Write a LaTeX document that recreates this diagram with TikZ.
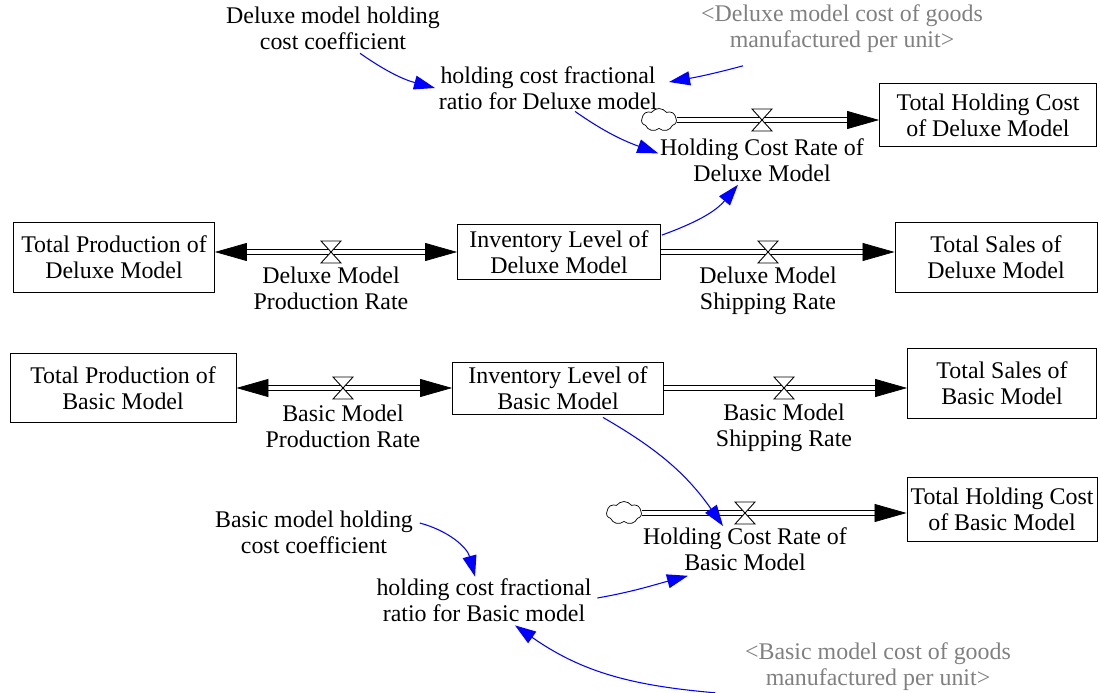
\documentclass[tikz,border=0pt]{standalone}
\usepackage{fontspec}
\setmainfont{Liberation Serif}
\usepackage{xcolor}
\usepackage{tikz}
\usetikzlibrary{arrows.meta, positioning, calc, shapes.symbols}
\definecolor{linkcolor}{RGB}{0, 0, 255}
\definecolor{ghostcolor}{RGB}{128, 128, 128}

\begin{document}
\begin{tikzpicture}[x=0.02cm, y=0.02cm,
    txt/.style={font=\fontsize{13.6}{14.8}\selectfont, align=center, inner sep=2pt},
    stock/.style={txt, draw, line width=0.5pt},
    ghost/.style={txt, text=ghostcolor},
    pipe/.style={double, double distance=0.8mm, line width=0.4pt},
    flowtip/.style={-{Triangle[length=6.4mm, width=3.6mm]}},
    twotip/.style={{Triangle[length=6.4mm, width=3.6mm]}-{Triangle[length=6.4mm, width=3.6mm]}},
    link/.style={linkcolor, line width=0.6pt, -{Triangle[length=4.2mm, width=2.8mm]}},
    source/.style={cloud, cloud puffs=7, cloud puff arc=110, aspect=1.5, draw, line width=0.4pt, minimum width=0.7cm, minimum height=0.46cm, inner sep=0pt, fill=white},
    valve/.pic={\draw[fill=white, line width=0.5pt] (-10,11) -- (10,11) -- (-10,-11) -- (10,-11) -- cycle;}
]
    \useasboundingbox (0,0) rectangle (1100,-693);

    % Deluxe stocks
    \node[stock, minimum width=4.02cm, minimum height=1.4cm] (totProdD) at (114,-257) {Total Production of\\Deluxe Model};
    \node[stock, minimum width=4.06cm, minimum height=1.1cm] (invD) at (559,-252) {Inventory Level of\\Deluxe Model};
    \node[stock, minimum width=4.04cm, minimum height=1.4cm] (salesD) at (996,-257) {Total Sales of\\Deluxe Model};
    \node[stock, minimum width=4.34cm, minimum height=1.26cm] (holdD) at (988,-115) {Total Holding Cost\\of Deluxe Model};

    % Basic stocks
    \node[stock, minimum width=4.52cm, minimum height=1.38cm] (totProdB) at (123,-388) {Total Production of\\Basic Model};
    \node[stock, minimum width=4.22cm, minimum height=1.04cm] (invB) at (558,-388) {Inventory Level of\\Basic Model};
    \node[stock, minimum width=3.78cm, minimum height=1.4cm] (salesB) at (1002,-383) {Total Sales of\\Basic Model};
    \node[stock, minimum width=3.8cm, minimum height=1.28cm] (holdB) at (1002,-509) {Total Holding Cost\\of Basic Model};

    % Clouds
    \node[source] (cD) at (659,-120) {};
    \node[source] (cB) at (624,-513) {};

    % Deluxe flows
    \draw[pipe, twotip] (invD.west -| totProdD.east) -- (invD.west);
    \coordinate (vPD) at (invD.west -| 331,0);
    \pic at (vPD) {valve};
    \node[txt, below=0.22cm of vPD] (rPD) {Deluxe Model\\Production Rate};

    \draw[pipe, flowtip] (invD.east) -- (invD.east -| salesD.west);
    \coordinate (vSD) at (invD.east -| 768,0);
    \pic at (vSD) {valve};
    \node[txt, below=0.22cm of vSD] (rSD) {Deluxe Model\\Shipping Rate};

    \draw[pipe, flowtip] (cD.east) -- (cD.east -| holdD.west);
    \coordinate (vHD) at (cD.east -| 762,0);
    \pic at (vHD) {valve};
    \node[txt, below=0.3cm of vHD] (rateD) {Holding Cost Rate of\\Deluxe Model};

    % Basic flows
    \draw[pipe, twotip] (invB.west -| totProdB.east) -- (invB.west);
    \coordinate (vPB) at (invB.west -| 343,0);
    \pic at (vPB) {valve};
    \node[txt, below=0.26cm of vPB] (rPB) {Basic Model\\Production Rate};

    \draw[pipe, flowtip] (invB.east) -- (invB.east -| salesB.west);
    \coordinate (vSB) at (invB.east -| 784,0);
    \pic at (vSB) {valve};
    \node[txt, below=0.24cm of vSB] (rSB) {Basic Model\\Shipping Rate};

    \draw[pipe, flowtip] (cB.east) -- (cB.east -| holdB.west);
    \coordinate (vHB) at (cB.east -| 745,0);
    \pic at (vHB) {valve};
    \node[txt, below=0.22cm of vHB] (rateB) {Holding Cost Rate of\\Basic Model};

    % Auxiliaries
    \node[txt] (coefD) at (333,-28) {Deluxe model holding\\cost coefficient};
    \node[ghost] (costD) at (842,-29) {<Deluxe model cost of goods\\manufactured per unit>};
    \node[txt] (ratioD) at (548,-88) {holding cost fractional\\ratio for Deluxe model};
    \node[txt] (coefB) at (314,-532) {Basic model holding\\cost coefficient};
    \node[txt] (ratioB) at (484,-600) {holding cost fractional\\ratio for Basic model};
    \node[ghost] (costB) at (878,-667) {<Basic model cost of goods\\manufactured per unit>};

    % Deluxe links
    \draw[link] ($(coefD.south)+(27,0)$) to[out=-35, in=165] (ratioD.west);
    \draw[link] ($(costD.south)+(-99,-9)$) to[out=195, in=10] ($(ratioD.east)+(8,6)$);
    \draw[link] ($(ratioD.south)+(27,2)$) to[out=-35, in=160] ($(rateD.west)+(2,7)$);
    \draw[link] ($(invD.north east)+(1,-11)$) to[out=20, in=-130] ($(rateD.south)+(-24,1)$);

    % Basic links
    \draw[link] ($(invB.south)+(45,-3)$) to[out=-30, in=125] ($(rateB.north)+(-22,-2)$);
    \draw[link] ($(coefB.east)+(3,9)$) to[out=-15, in=105] ($(ratioB.north)+(-9,-2)$);
    \draw[link] ($(ratioB.east)+(2,2)$) to[out=10, in=195] ($(rateB.south)+(-57,-1)$);
    \draw[link] ($(costB.south west)+(-26,2)$) to[out=175, in=-35] ($(ratioB.south)+(31,0)$);
\end{tikzpicture}
\end{document}
